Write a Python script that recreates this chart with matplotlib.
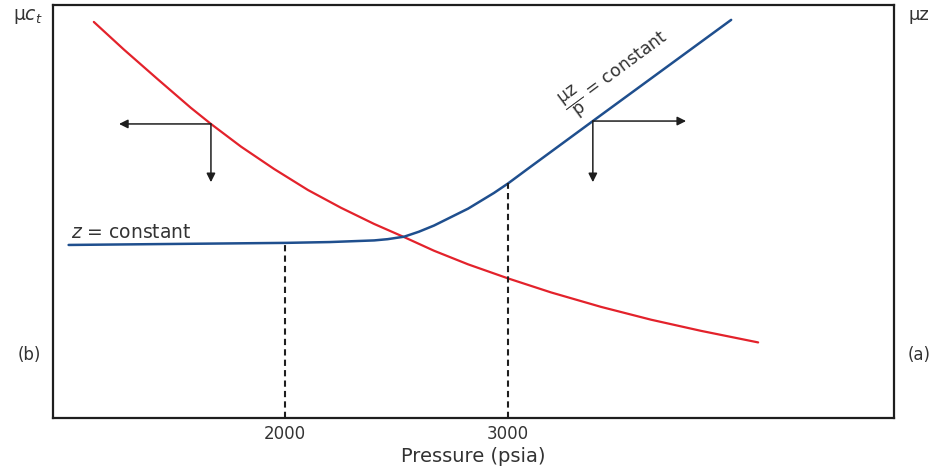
import matplotlib
matplotlib.use("Agg")
import matplotlib.pyplot as plt

plt.rcParams['font.family'] = ['DejaVu Sans']
plt.rcParams['mathtext.fontset'] = 'dejavusans'

# Pressure (psia) and relative curve values (arbitrary units, 0-100)
p_muct = [1143, 1278, 1430, 1578, 1668, 1803, 1951, 2103, 2251, 2399, 2534,
          2668, 2821, 3000, 3193, 3417, 3641, 3865, 4121]
muct = [95.9, 89.2, 82.0, 75.1, 71.2, 65.7, 60.3, 55.2, 50.9, 47.0, 43.8,
        40.5, 37.2, 33.8, 30.4, 26.9, 23.8, 21.1, 18.3]

p_muz = [1030, 2000, 2200, 2400, 2460, 2534, 2600, 2668, 2821, 2937, 3000,
         3090, 3380, 4000]
muz = [41.9, 42.4, 42.6, 43.0, 43.3, 43.9, 45.1, 46.6, 50.7, 54.5, 56.8,
       60.4, 71.9, 96.4]

tick_values = [2000, 3000]
tick_labels = ["2000", "3000"]

W, H = 935, 473
fig = plt.figure(figsize=(W / 100, H / 100), dpi=100)
ax = fig.add_axes([53 / W, 1 - 418 / H, (894 - 53) / W, (418 - 5) / H])
ax.set_xlim(960, 4730)
ax.set_ylim(0, 100)

red = '#e3222b'
blue = '#1f4f8e'
ink = '#1e1e1e'

ax.plot(p_muct, muct, color=red, lw=1.6, solid_capstyle='round',
        solid_joinstyle='round')
ax.plot(p_muz, muz, color=blue, lw=1.8, solid_capstyle='round',
        solid_joinstyle='round')

# dashed drop lines from the mu*z curve to the pressure axis
for pv in tick_values:
    yv = muz[p_muz.index(pv)]
    ax.plot([pv, pv], [0, yv], color=ink, lw=1.5, ls=(0, (3, 2)))

# direction arrows
arrow_kw = dict(arrowstyle='-|>', color=ink, lw=1.1, mutation_scale=13,
                shrinkA=0, shrinkB=0)
p0, y0 = p_muct[4], muct[4]
ax.annotate('', xy=(1256, y0), xytext=(p0, y0), arrowprops=arrow_kw)
ax.annotate('', xy=(p0, 57.1), xytext=(p0, y0), arrowprops=arrow_kw)
p1, y1 = p_muz[12], muz[12]
ax.annotate('', xy=(3798, y1), xytext=(p1, y1), arrowprops=arrow_kw)
ax.annotate('', xy=(p1, 57.1), xytext=(p1, y1), arrowprops=arrow_kw)

# curve labels
ax.text(1040, 44.9, r'$z$ = constant', fontsize=13.5, color='#333333',
        ha='left', va='center')
ax.text(3485, 83.5, r'$\dfrac{\mathrm{\mu z}}{\mathrm{p}}$ = constant',
        fontsize=12.5, color='#333333', ha='center', va='center',
        rotation=36.5, rotation_mode='anchor')

for s in ax.spines.values():
    s.set_linewidth(1.6)
    s.set_color(ink)

ax.set_yticks([])
ax.set_xticks(tick_values)
ax.set_xticklabels(tick_labels, fontsize=12, color='#333333')
ax.tick_params(axis='x', length=0, pad=5)
ax.set_xlabel('Pressure (psia)', fontsize=14, color='#333333', labelpad=3)

# side annotations
fig.text(28 / W, 1 - 17 / H, r'μ$c_t$', fontsize=13.5, color='#333333',
         ha='center', va='center')
fig.text(919 / W, 1 - 15 / H, 'μz', fontsize=13, color='#333333',
         ha='center', va='center')
fig.text(29 / W, 1 - 355 / H, '(b)', fontsize=12, color='#333333',
         ha='center', va='center')
fig.text(919 / W, 1 - 355 / H, '(a)', fontsize=12, color='#333333',
         ha='center', va='center')

fig.savefig('out.png', dpi=100)
